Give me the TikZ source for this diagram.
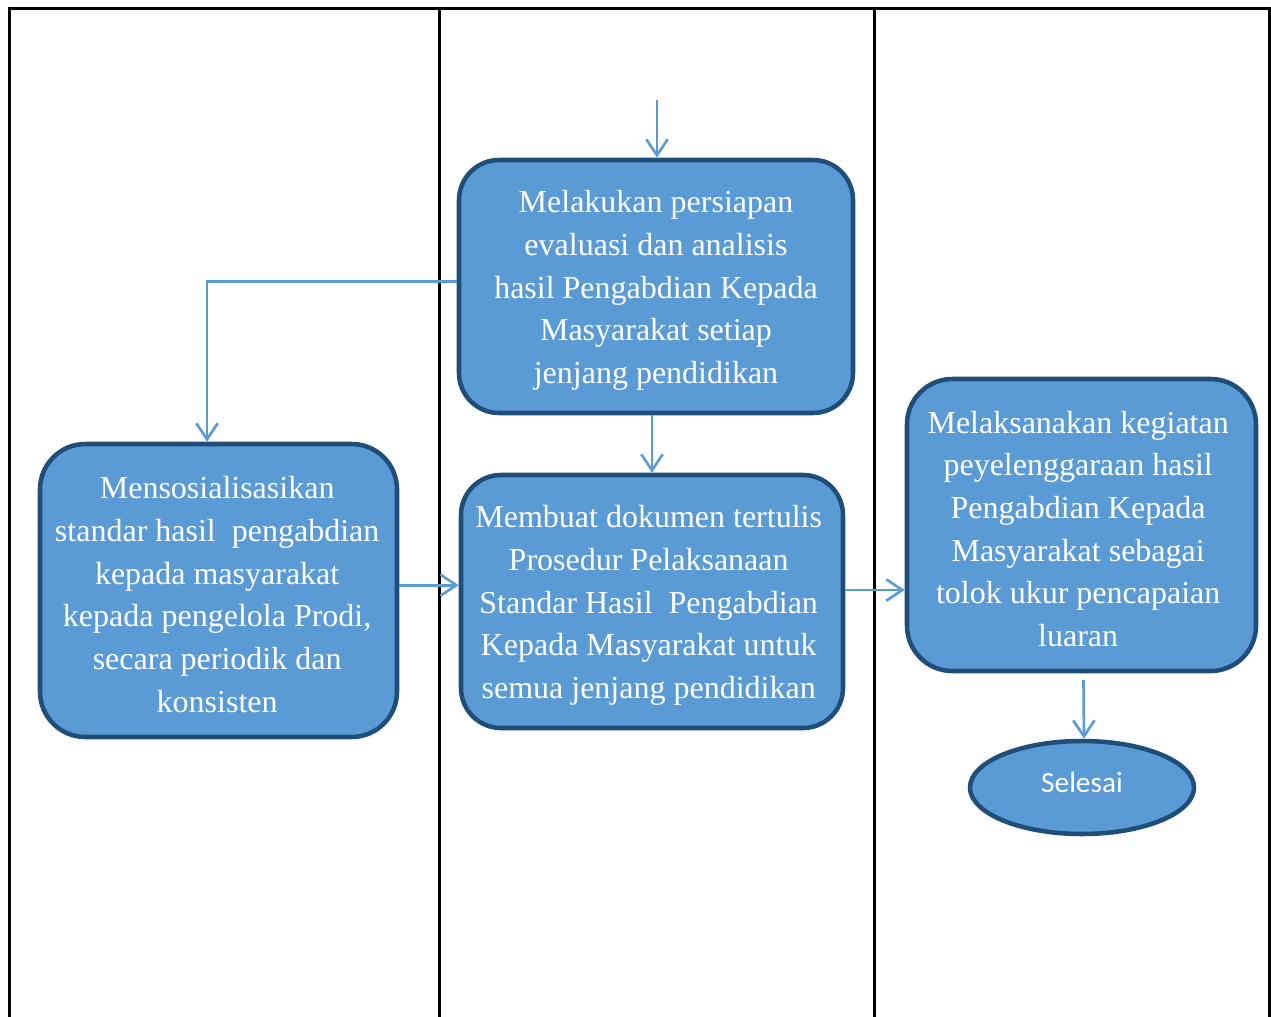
\documentclass[tikz,border=0pt]{standalone}
\usepackage{fontspec}
\setmainfont{Liberation Serif}
\newfontfamily\calibrifont{Carlito}
\usetikzlibrary{arrows.meta,shapes.geometric}
\definecolor{boxfill}{HTML}{5B9BD5}
\definecolor{boxline}{HTML}{1F4E79}
\definecolor{arrcol}{HTML}{5B9BD5}
\tikzset{
  procbox/.style={draw=boxline, fill=boxfill, line width=3.4pt, rounded corners=30pt, inner sep=0pt},
  proctext/.style={text=white, align=center, inner sep=0pt, yshift=-3pt, font={\fontsize{24}{32}\selectfont}},
  endbox/.style={ellipse, draw=boxline, fill=boxfill, line width=3.4pt, inner sep=0pt},
  endtext/.style={text=white, inner sep=0pt, yshift=4pt, font={\calibrifont\fontsize{22}{26}\selectfont}},
  arr/.style={draw=arrcol, line width=2pt, -{Straight Barb[length=12pt,width=16pt,line width=2pt]}},
  frameline/.style={draw=black, line width=2.25pt}
}
\begin{document}
\begin{tikzpicture}[x=0.75pt,y=-0.75pt]
\useasboundingbox (0,0) rectangle (1271,1017);
% frame
\draw[frameline] (9,1017) -- (9,8) -- (1269,8) -- (1269,1017);
\draw[frameline] (439,8) -- (439,1017);
\draw[frameline] (874,8) -- (874,1017);

\node[procbox, minimum width=295.5pt, minimum height=189.75pt] (top) at (656,286.5) {};
\node[proctext] (toptxt) at (top.center)
  {Melakukan persiapan\\evaluasi dan analisis\\hasil Pengabdian Kepada\\Masyarakat setiap\\jenjang pendidikan};
\node[procbox, minimum width=267.75pt, minimum height=219.75pt, rounded corners=34pt] (left) at (218.5,590.5) {};
\node[proctext] (lefttxt) at ([xshift=-1pt]left.center)
  {Mensosialisasikan\\standar hasil\ \ pengabdian\\kepada masyarakat\\kepada pengelola Prodi,\\secara periodik dan\\konsisten};
\node[procbox, minimum width=286.5pt, minimum height=189.75pt] (mid) at (652,601.5) {};
\node[proctext] (midtxt) at ([xshift=-2.5pt]mid.center)
  {Membuat dokumen tertulis\\Prosedur Pelaksanaan\\Standar Hasil\ \ Pengabdian\\Kepada Masyarakat untuk\\semua jenjang pendidikan};
\node[procbox, minimum width=261.75pt, minimum height=219pt, rounded corners=34pt] (right) at (1081.5,525) {};
\node[proctext] (righttxt) at ([xshift=-2.5pt]right.center)
  {Melaksanakan kegiatan\\peyelenggaraan hasil\\Pengabdian Kepada\\Masyarakat sebagai\\tolok ukur pencapaian\\luaran};
\node[endbox, minimum width=168pt, minimum height=69.75pt] (sel) at (1082,787.5) {};
\node[endtext] (seltxt) at (sel.center) {Selesai};

\coordinate (start) at (657,100);
\draw[arr] (start) -- (start |- top.north);
\draw[arr] ([yshift=4pt]top.west) -| ([xshift=-8.6pt]left.north);
\draw[arr] (mid.north |- top.south) -- (mid.north);
\draw[arr] ([yshift=4pt]left.east) -- ([yshift=4pt]left.east -| mid.west);
\draw[arr] ([yshift=8.6pt]mid.east) -- ([yshift=8.6pt]mid.east -| right.west);
\draw[arr] ([xshift=1.5pt,yshift=-5pt]right.south) -- ([xshift=1.5pt]sel.north);
\end{tikzpicture}
\end{document}
